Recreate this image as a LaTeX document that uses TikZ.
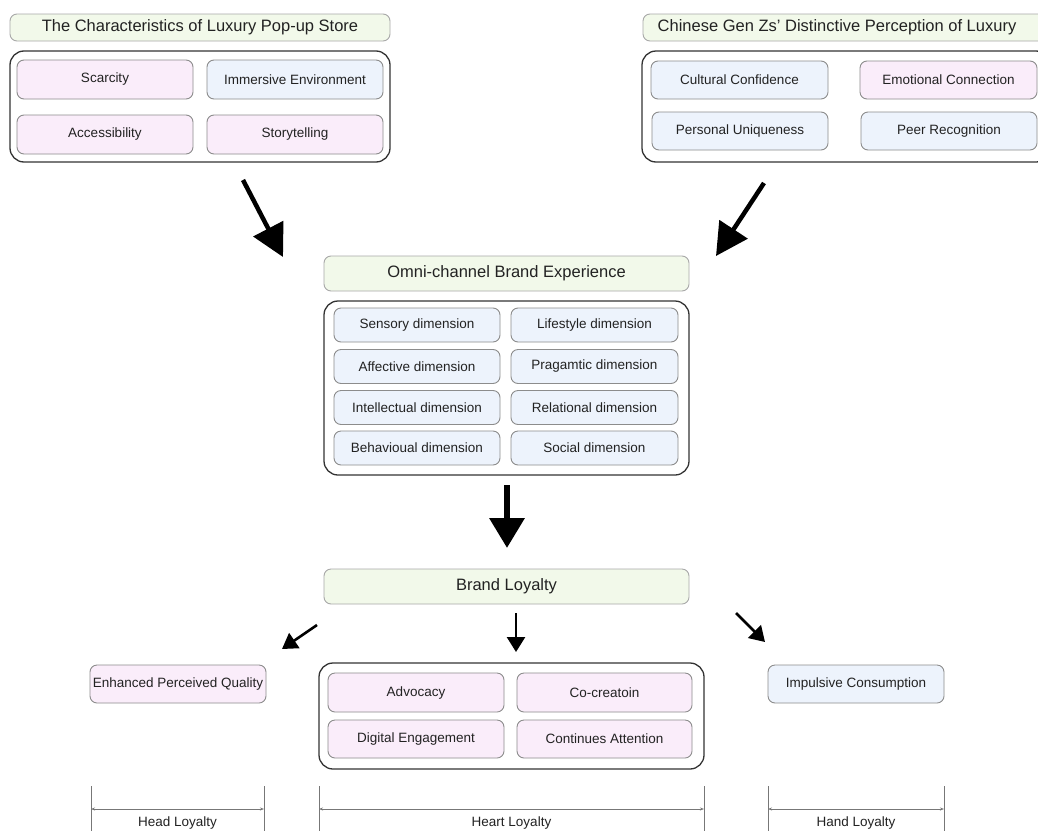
\documentclass[tikz,border=0pt]{standalone}
\usepackage{fontspec}
\setmainfont{Liberation Sans}
\usetikzlibrary{arrows.meta,calc}

\definecolor{greenfill}{HTML}{F2F9EA}
\definecolor{pinkfill}{HTML}{FAEDFA}
\definecolor{bluefill}{HTML}{EDF3FC}
\definecolor{boxedge}{HTML}{8C8C8C}
\definecolor{titleedge}{HTML}{A8A8A8}
\definecolor{frameedge}{HTML}{333333}
\definecolor{inkc}{HTML}{222222}
\definecolor{dimc}{HTML}{777777}

\tikzset{
  sz/.style 2 args={minimum width=#1, minimum height=#2},
  base/.style={rounded corners=7pt, draw=boxedge, line width=0.9pt, inner sep=0pt,
    text=inkc, font=\fontsize{13.5}{16}\selectfont},
  titlebox/.style={base, fill=greenfill, draw=titleedge, font=\fontsize{16.5}{19}\selectfont},
  pinkbox/.style={base, fill=pinkfill},
  bluebox/.style={base, fill=bluefill},
  frame/.style={rounded corners=14pt, draw=frameedge, line width=1.3pt, inner sep=0pt},
  bigarrow/.style={-{Triangle[length=32pt,width=33pt]}, line width=4.5pt, black},
  midarrow/.style={-{Triangle[length=30pt,width=34pt]}, line width=6.5pt, black},
  smallarrow/.style={-{Triangle[length=15pt,width=18pt]}, line width=2.6pt, black},
  dimtick/.style={draw=dimc, line width=0.8pt},
  dimline/.style={draw=dimc, line width=0.8pt,
    {Stealth[length=4pt,width=3pt]}-{Stealth[length=4pt,width=3pt]}},
  dimlabel/.style={text=inkc, font=\fontsize{13.5}{16}\selectfont, inner sep=0pt}
}

\begin{document}
\begin{tikzpicture}[x=1pt, y=-1pt]
  \fill[white] (0,0) rectangle (1038,830);
  \useasboundingbox (0,0) rectangle (1038,830);
  \clip (0,0) rectangle (1038,830);

  % ---- Characteristics of the pop-up store ----
  \node[titlebox, sz={380pt}{27pt}] (tl) at (200,27.5) {The Characteristics of Luxury Pop-up Store};
  \node[frame, sz={380pt}{111pt}] (cl) at (200,106.5) {};
  \node[pinkbox, sz={176pt}{39pt}] (scar) at (105,79.5) {Scarcity};
  \node[bluebox, sz={176pt}{39pt}] (imm) at (295,79.5) {Immersive Environment};
  \node[pinkbox, sz={176pt}{39pt}] (acc) at (105,134.5) {Accessibility};
  \node[pinkbox, sz={176pt}{39pt}] (story) at (295,134.5) {Storytelling};

  % ---- Gen Z perception ----
  \node[titlebox, sz={402pt}{27pt}] (tr) at (844,27.5) {\hspace*{-14pt}Chinese Gen Zs{\char"0027} Distinctive Perception of Luxury};
  \node[frame, sz={408pt}{111pt}] (cr) at (846,106.5) {};
  \node[bluebox, sz={177pt}{38pt}] (cult) at (739.5,80) {Cultural Confidence};
  \node[pinkbox, sz={177pt}{38pt}] (emo) at (948.5,80) {Emotional Connection};
  \node[bluebox, sz={176pt}{38pt}] (pers) at (740,131) {Personal Uniqueness};
  \node[bluebox, sz={176pt}{38pt}] (peer) at (949,131) {Peer Recognition};

  % ---- Omni-channel brand experience ----
  \node[titlebox, sz={365pt}{35pt}] (omni) at (506.5,273.5) {Omni-channel Brand Experience};
  \node[frame, sz={365pt}{174pt}] (co) at (506.5,388) {};
  \node[bluebox, sz={166pt}{34pt}] (sens) at (417,325) {Sensory dimension};
  \node[bluebox, sz={167pt}{34pt}] (life) at (594.5,325) {Lifestyle dimension};
  \node[bluebox, sz={166pt}{34pt}] (aff) at (417,366.5) {Affective dimension};
  \node[bluebox, sz={167pt}{34pt}] (prag) at (594.5,366.5) {Pragamtic dimension};
  \node[bluebox, sz={166pt}{34pt}] (intel) at (417,407.5) {Intellectual dimension};
  \node[bluebox, sz={167pt}{34pt}] (rel) at (594.5,407.5) {Relational dimension};
  \node[bluebox, sz={166pt}{34pt}] (beh) at (417,448) {Behavioual dimension};
  \node[bluebox, sz={167pt}{34pt}] (soc) at (594.5,448) {Social dimension};

  % ---- Brand loyalty ----
  \node[titlebox, sz={365pt}{35pt}] (loy) at (506.5,586.5) {Brand Loyalty};

  \node[pinkbox, sz={176pt}{38pt}] (qual) at (178,684) {Enhanced Perceived Quality};
  \node[frame, sz={385pt}{106pt}] (ch) at (511.5,716) {};
  \node[pinkbox, sz={176pt}{39pt}] (adv) at (416,692.5) {Advocacy};
  \node[pinkbox, sz={175pt}{39pt}] (cocr) at (604.5,692.5) {Co-creatoin};
  \node[pinkbox, sz={176pt}{38pt}] (dig) at (416,739) {Digital Engagement};
  \node[pinkbox, sz={175pt}{38pt}] (cont) at (604.5,739) {Continues Attention};
  \node[bluebox, sz={176pt}{38pt}] (imp) at (856,684) {Impulsive Consumption};

  % ---- free-standing arrows ----
  \coordinate (a1s) at (243,180);  \coordinate (a1e) at (283,257);
  \coordinate (a2s) at (764,183);  \coordinate (a2e) at (716,256);
  \coordinate (a3s) at (507,485);  \coordinate (a3e) at (507,548);
  \coordinate (a4s) at (317,625);  \coordinate (a4e) at (282,649);
  \coordinate (a5s) at (516,613);  \coordinate (a5e) at (516,652);
  \coordinate (a6s) at (736,613);  \coordinate (a6e) at (765,642);
  \draw[bigarrow] (a1s) -- (a1e);
  \draw[bigarrow] (a2s) -- (a2e);
  \draw[midarrow] (a3s) -- (a3e);
  \draw[smallarrow] (a4s) -- (a4e);
  \draw[smallarrow] (a5s) -- (a5e);
  \draw[smallarrow] (a6s) -- (a6e);

  % ---- loyalty spans ----
  \foreach \xa/\xb/\nm/\lab in {91/264/head/Head Loyalty, 319/704/heart/Heart Loyalty, 768/944/hand/Hand Loyalty}{
    \coordinate (\nm a) at (\xa,786);
    \coordinate (\nm b) at (\xb,786);
    \coordinate (\nm c) at (\xa,840);
    \coordinate (\nm d) at (\xb,840);
    \coordinate (\nm l) at (\xa,809);
    \coordinate (\nm r) at (\xb,809);
    \draw[dimtick] (\nm a) -- (\nm c);
    \draw[dimtick] (\nm b) -- (\nm d);
    \draw[dimline] (\nm l) -- (\nm r);
    \node[dimlabel] (\nm lab) at ($(\nm l)!0.5!(\nm r)+(0,14)$) {\lab};
  }
\end{tikzpicture}
\end{document}
